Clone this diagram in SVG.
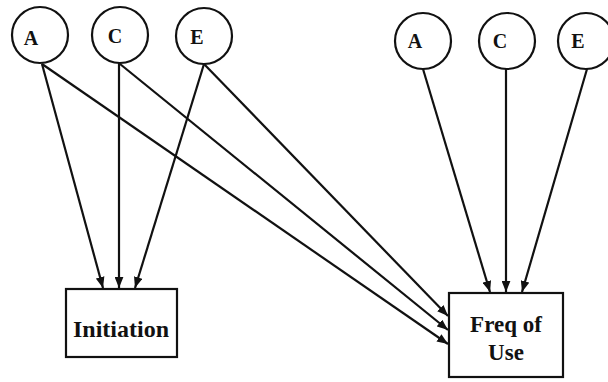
<svg xmlns="http://www.w3.org/2000/svg" width="608" height="382" viewBox="0 0 608 382">
<defs>
<style>
.n{fill:#fff;stroke:#111;stroke-width:2.2}
.t{font-family:"Liberation Serif","Times New Roman",serif;font-weight:bold;fill:#111;text-anchor:middle}
.l{font-size:20px}
.b{font-size:23px}
.e{stroke:#111;stroke-width:2.2;fill:none;marker-end:url(#ah)}
</style>
<marker id="ah" viewBox="0 0 10 8" refX="10" refY="4" markerWidth="11" markerHeight="9" markerUnits="userSpaceOnUse" orient="auto">
<path d="M0,0 L10,4 L0,8 Z" fill="#111"/>
</marker>
</defs>
<rect width="608" height="382" fill="#fff"/>
<g id="connectors">
<line class="e" x1="42" y1="64" x2="103" y2="288"/>
<line class="e" x1="119" y1="63" x2="119" y2="288"/>
<line class="e" x1="204" y1="64" x2="135" y2="288"/>
<line class="e" x1="42" y1="64" x2="448" y2="344"/>
<line class="e" x1="120" y1="64" x2="448" y2="330"/>
<line class="e" x1="204" y1="64" x2="448" y2="316"/>
<line class="e" x1="423" y1="69" x2="490" y2="292"/>
<line class="e" x1="506" y1="69" x2="506" y2="292"/>
<line class="e" x1="587" y1="69" x2="522" y2="292"/>
</g>
<g id="A1"><circle class="n" cx="40" cy="35" r="28"/><text class="t l" x="31" y="45">A</text></g>
<g id="C1"><circle class="n" cx="120" cy="35" r="28"/><text class="t l" x="115" y="43">C</text></g>
<g id="E1"><circle class="n" cx="204" cy="36" r="28"/><text class="t l" x="197" y="44">E</text></g>
<g id="A2"><circle class="n" cx="423" cy="41" r="28"/><text class="t l" x="415" y="48">A</text></g>
<g id="C2"><circle class="n" cx="507" cy="41" r="28"/><text class="t l" x="500" y="48">C</text></g>
<g id="E2"><circle class="n" cx="586" cy="41" r="28"/><text class="t l" x="578" y="48">E</text></g>
<g id="Initiation"><rect class="n" x="66" y="289" width="111" height="68"/><text class="t" x="121" y="337" font-size="24">Initiation</text></g>
<g id="FreqOfUse"><rect class="n" x="449" y="293" width="114" height="84"/><text class="t b" x="506" y="332">Freq of</text><text class="t b" x="506" y="360">Use</text></g>
</svg>
